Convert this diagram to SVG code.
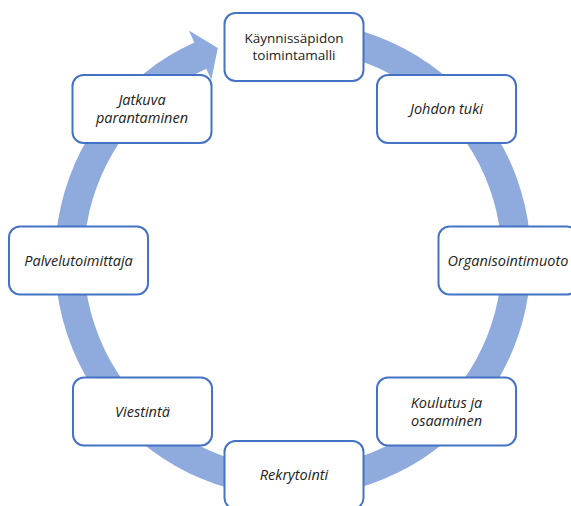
<svg xmlns="http://www.w3.org/2000/svg" width="571" height="506" viewBox="0 0 571 506">
<style>
.node rect{fill:#ffffff;stroke:#4472C4;stroke-width:2}
.node text{font-family:"Open Sans","Liberation Sans",sans-serif;font-size:13.5px;fill:#222222;text-anchor:middle}
.it text{font-style:italic;font-size:14.5px}
.ring{fill:#8FAADC;stroke:none}
</style>
<rect width="571" height="506" fill="#ffffff"/>
<g id="connectors">
<path class="ring" d="M 293 21 A 238 238 0 1 1 194.3 42.4 L 188.9 30.6 L 217.8 48 L 211.3 79.7 L 206.3 68.8 A 209 209 0 1 0 293 50 Z"/>
</g>
<g id="n1" class="node"><rect x="224.5" y="13" width="139" height="68" rx="11"/><text x="294" y="43">Käynnissäpidon</text><text x="294" y="60">toimintamalli</text></g>
<g id="n2" class="node it"><rect x="377" y="75" width="139" height="68" rx="11"/><text x="446.5" y="114">Johdon tuki</text></g>
<g id="n3" class="node it"><rect x="438.5" y="226.5" width="139" height="68" rx="11"/><text x="508" y="266">Organisointimuoto</text></g>
<g id="n4" class="node it"><rect x="377" y="377.5" width="139" height="68" rx="11"/><text x="446.5" y="408">Koulutus ja</text><text x="446.5" y="426">osaaminen</text></g>
<g id="n5" class="node it"><rect x="224.5" y="441" width="139" height="68" rx="11"/><text x="294" y="480">Rekrytointi</text></g>
<g id="n6" class="node it"><rect x="73" y="377.5" width="139" height="68" rx="11"/><text x="142.5" y="417">Viestintä</text></g>
<g id="n7" class="node it"><rect x="9" y="226.5" width="139" height="68" rx="11"/><text x="78.5" y="266">Palvelutoimittaja</text></g>
<g id="n8" class="node it"><rect x="72.5" y="75" width="139" height="68" rx="11"/><text x="142" y="105">Jatkuva</text><text x="142" y="123">parantaminen</text></g>
</svg>
